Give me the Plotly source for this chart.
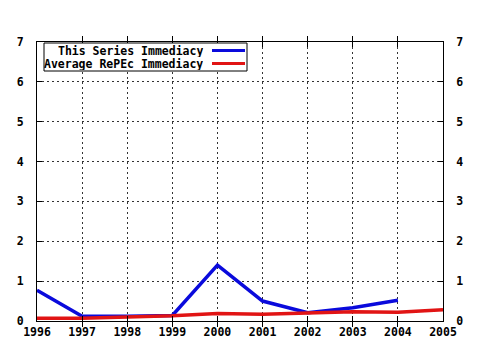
import plotly.graph_objects as go

years = [1996, 1997, 1998, 1999, 2000, 2001, 2002, 2003, 2004, 2005]
series_years = [1996, 1997, 1998, 1999, 2000, 2001, 2002, 2003, 2004]
series_vals = [0.77, 0.12, 0.12, 0.14, 1.40, 0.50, 0.21, 0.33, 0.52]
avg_vals = [0.07, 0.07, 0.10, 0.13, 0.19, 0.17, 0.20, 0.23, 0.22, 0.28]
y_ticks = [0, 1, 2, 3, 4, 5, 6, 7]
series_name = "This Series Immediacy"
avg_name = "Average RePEc Immediacy"

BLUE = "rgb(10,10,220)"
RED = "rgb(225,20,20)"
FONT = dict(family="DejaVu Sans Mono", size=11.5, color="black")

fig = go.Figure()
fig.add_trace(go.Scatter(x=series_years, y=series_vals, mode="lines",
                         line=dict(color=BLUE, width=3.5), name=series_name))
fig.add_trace(go.Scatter(x=years, y=avg_vals, mode="lines",
                         line=dict(color=RED, width=3.5), name=avg_name))
fig.add_trace(go.Scatter(x=[years[0]], y=[0], yaxis="y2", mode="markers",
                         marker=dict(opacity=0), showlegend=False, hoverinfo="skip"))

axis_common = dict(showline=True, linecolor="black", linewidth=1,
                   ticks="inside", ticklen=5, tickcolor="black",
                   tickfont=dict(family="DejaVu Sans Mono", size=11.5, color="black", weight="bold"),
                   zeroline=False)

fig.update_layout(
    width=480, height=350,
    margin=dict(l=37, r=37, t=42, b=29),
    paper_bgcolor="white", plot_bgcolor="white",
    showlegend=False,
    xaxis=dict(range=[years[0], years[-1]], tickvals=years, ticktext=[str(y) for y in years],
               mirror="allticks", showgrid=True, gridcolor="#333", griddash="2px,3px", gridwidth=1,
               **axis_common),
    yaxis=dict(range=[0, 7], tickvals=y_ticks, mirror="allticks", showgrid=True,
               gridcolor="#333", griddash="2px,3px", gridwidth=1, ticklabelstandoff=10,
               **axis_common),
    yaxis2=dict(range=[0, 7], tickvals=y_ticks, overlaying="y", side="right",
                showgrid=False, ticklabelstandoff=10, **axis_common),
)

# Legend box (gnuplot style: text right-aligned, sample line to the right)
x0, x1 = (44 - 37) / 406, (247 - 37) / 406
yt, yb = (321 - 43) / 279, (321 - 71) / 279
fig.add_shape(type="rect", xref="paper", yref="paper", x0=x0, x1=x1, y0=yb, y1=yt,
              line=dict(color="black", width=1), fillcolor="white", layer="above")
rows = [(series_name, BLUE, 50.5), (avg_name, RED, 63.5)]
for name, col, py in rows:
    yy = (321 - py) / 279
    fig.add_annotation(xref="paper", yref="paper", x=(205 - 37) / 406, y=yy,
                       text="<b>" + name + "</b>", showarrow=False, xanchor="right",
                       yanchor="middle", font=FONT, height=12)
    fig.add_shape(type="line", xref="paper", yref="paper",
                  x0=(212 - 37) / 406, x1=(245 - 37) / 406, y0=yy, y1=yy,
                  line=dict(color=col, width=3), layer="above")

fig.write_html("out.html")
